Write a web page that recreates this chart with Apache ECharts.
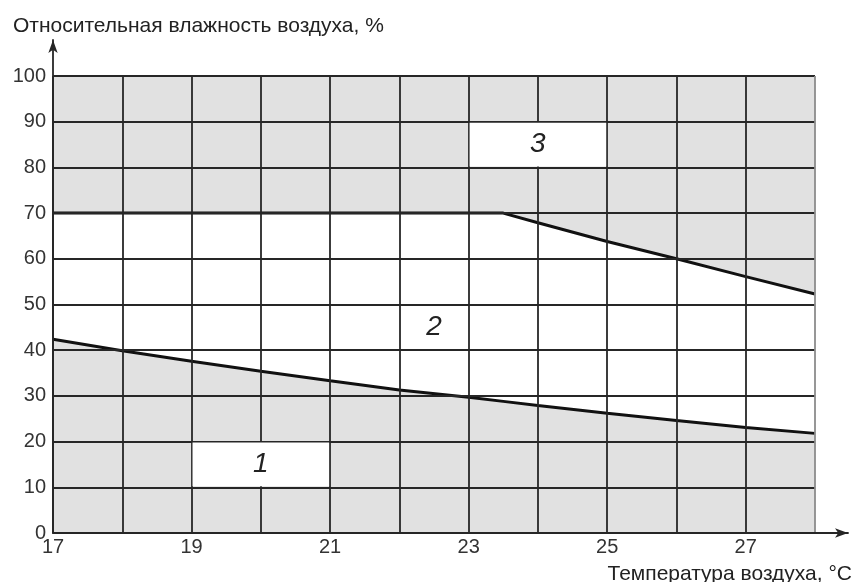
<!DOCTYPE html>
<html>
<head>
<meta charset="utf-8">
<script src="https://cdn.jsdelivr.net/npm/echarts@6/dist/echarts.min.js"></script>
<style>
  html, body { margin: 0; padding: 0; background: #fff; }
  #chart { width: 859px; height: 582px; }
</style>
</head>
<body>
<div id="chart"></div>
<script>
  // температура воздуха, °C
  const temperature = [17, 18, 19, 20, 21, 22, 23, 23.5, 24, 25, 26, 27, 28]
  // нижняя граница допустимой влажности, %
  const lowerLimit = [42.4, 39.9, 37.6, 35.4, 33.3, 31.3, 29.7, 28.8, 27.9, 26.2, 24.6, 23.1, 21.8]
  // верхняя граница допустимой влажности, %
  const upperLimit = [70, 70, 70, 70, 70, 70, 70, 70, 67.9, 63.8, 60.0, 56.1, 52.3]

  // белые подложки под номерами зон: [x0, x1, y0, y1]
  const zoneBoxes = [[19, 21, 10, 20], [23, 25, 80, 90]]
  // номера зон
  const zoneLabelX = [20, 22.5, 24]
  const zoneLabelY = [15, 45, 85]
  const zoneLabelText = ['1', '2', '3']

  const xMin = 17, xMax = 28
  const yMin = 0, yMax = 100

  const font = 'Liberation Sans, Arial, sans-serif'
  const gray = '#e1e1e1'
  const dark = '#262626'

  const lineCount = xMax - xMin + 1
  const vLineColors = []
  for (let i = 0; i < lineCount; i++) vLineColors.push(i === lineCount - 1 ? '#8c8c8c' : dark)

  const lowerData = temperature.map((t, i) => [t, lowerLimit[i]])
  const upperData = temperature.map((t, i) => [t, upperLimit[i]])
  const labelData = zoneLabelX.map((x, i) => [x, zoneLabelY[i], zoneLabelText[i]])

  const chart = echarts.init(document.getElementById('chart'))
  chart.setOption({
    animation: false,
    title: [
      {
        text: 'Относительная влажность воздуха, %',
        left: 8, top: 11,
        textStyle: { fontSize: 21, fontWeight: 'normal', color: '#222', fontFamily: font }
      },
      {
        text: 'Температура воздуха, °C',
        right: 2, top: 559,
        textStyle: { fontSize: 21, fontWeight: 'normal', color: '#222', fontFamily: font }
      }
    ],
    grid: [
      { left: 53, top: 76, width: 762, height: 457 },
      { left: 53, top: 40, width: 795, height: 493 }
    ],
    xAxis: [
      {
        type: 'value', gridIndex: 0, min: xMin, max: xMax, interval: 1, z: 4,
        axisLine: { show: false },
        axisTick: { show: false },
        axisLabel: {
          color: '#333', fontSize: 20, fontFamily: font, margin: 4,
          formatter: v => (v % 2 === 1 ? String(v) : '')
        },
        splitLine: { show: true, lineStyle: { color: vLineColors, width: 1.8 } }
      },
      {
        type: 'value', gridIndex: 1, min: 0, max: 1, z: 5,
        axisLine: { show: true, onZero: false, symbol: ['none', 'arrow'], symbolSize: [7, 13], lineStyle: { color: dark, width: 1.8 } },
        axisTick: { show: false }, axisLabel: { show: false }, splitLine: { show: false }
      }
    ],
    yAxis: [
      {
        type: 'value', gridIndex: 0, min: yMin, max: yMax, interval: 10, z: 4,
        axisLine: { show: false },
        axisTick: { show: false },
        axisLabel: { color: '#333', fontSize: 20, fontFamily: font, margin: 7 },
        splitLine: { show: true, lineStyle: { color: dark, width: 1.8 } }
      },
      {
        type: 'value', gridIndex: 1, min: 0, max: 1, z: 5,
        axisLine: { show: true, onZero: false, symbol: ['none', 'arrow'], symbolSize: [7, 13], lineStyle: { color: dark, width: 1.8 } },
        axisTick: { show: false }, axisLabel: { show: false }, splitLine: { show: false }
      }
    ],
    series: [
      {
        // серый фон (зона 3)
        type: 'line', xAxisIndex: 0, yAxisIndex: 0, z: 1,
        data: [[xMin, yMax], [xMax, yMax]],
        showSymbol: false, silent: true,
        lineStyle: { width: 0 },
        areaStyle: { color: gray, opacity: 1 }
      },
      {
        // верхняя граница, под ней белая зона 2
        type: 'line', xAxisIndex: 0, yAxisIndex: 0, z: 2,
        data: upperData,
        showSymbol: false, silent: true,
        lineStyle: { color: '#111', width: 3 },
        areaStyle: { color: '#fff', opacity: 1 }
      },
      {
        // нижняя граница, под ней серая зона 1
        type: 'line', xAxisIndex: 0, yAxisIndex: 0, z: 3,
        data: lowerData,
        showSymbol: false, silent: true,
        lineStyle: { color: '#111', width: 3 },
        areaStyle: { color: gray, opacity: 1 }
      },
      {
        type: 'custom', xAxisIndex: 0, yAxisIndex: 0, z: 7, silent: true,
        data: zoneBoxes,
        renderItem: function (params, api) {
          const p0 = api.coord([api.value(0), api.value(3)])
          const p1 = api.coord([api.value(1), api.value(2)])
          return {
            type: 'rect',
            shape: { x: p0[0] + 1, y: p0[1] + 1, width: p1[0] - p0[0] - 2, height: p1[1] - p0[1] - 2 },
            style: { fill: '#fff' }
          }
        }
      },
      {
        type: 'custom', xAxisIndex: 0, yAxisIndex: 0, z: 8, silent: true,
        data: labelData,
        renderItem: function (params, api) {
          const p = api.coord([api.value(0), api.value(1)])
          return {
            type: 'text',
            style: {
              x: p[0], y: p[1], text: labelData[params.dataIndex][2],
              align: 'center', verticalAlign: 'middle',
              font: 'italic 28px ' + font, fill: '#222'
            }
          }
        }
      }
    ]
  })
</script>
</body>
</html>
